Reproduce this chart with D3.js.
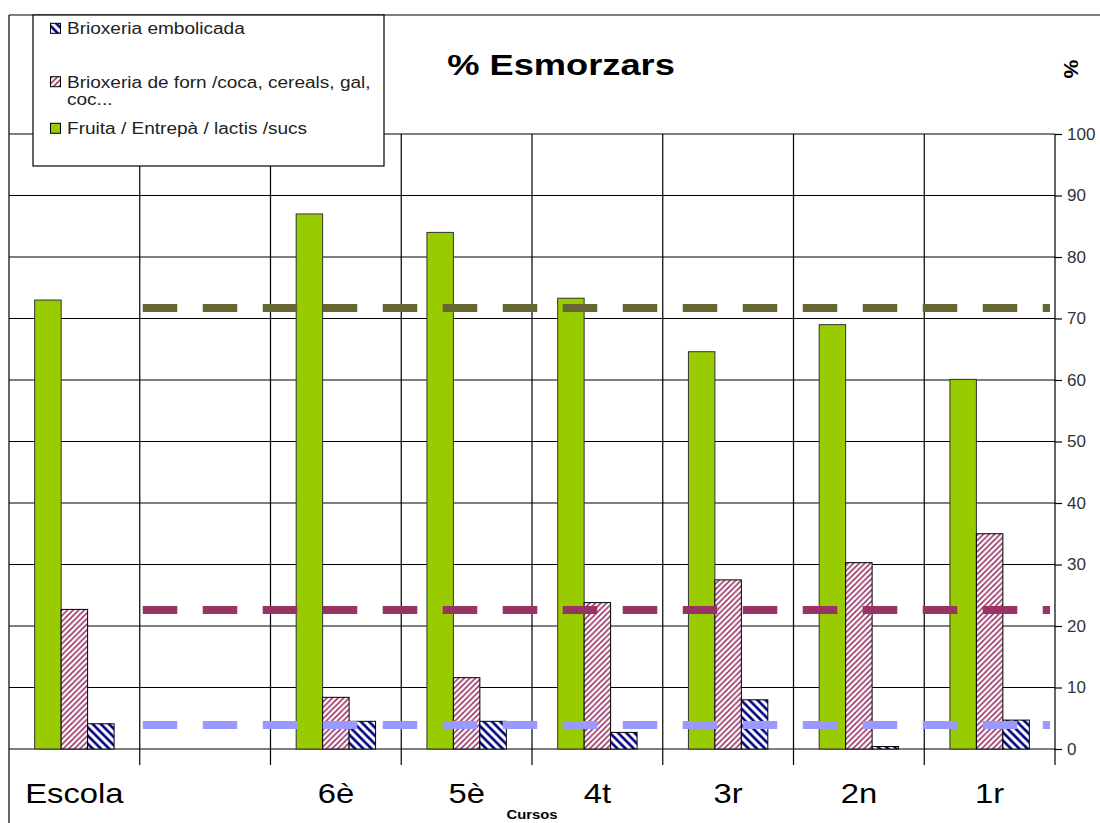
<!DOCTYPE html>
<html>
<head>
<meta charset="utf-8">
<script src="https://cdn.jsdelivr.net/npm/d3@7"></script>
<style>
  html, body { margin: 0; padding: 0; background: #fff; }
  svg { display: block; font-family: "Liberation Sans", Arial, sans-serif; }
</style>
</head>
<body>
<svg id="chart" width="1100" height="823"></svg>
<script>
// ---- data ----
const categories = ["Escola", "", "6è", "5è", "4t", "3r", "2n", "1r"];
const seriesNames = ["Fruita / Entrepà / lactis /sucs", "Brioxeria de forn /coca, cereals, gal, coc...", "Brioxeria embolicada"];
const fruita   = [73.0, null, 87.0, 84.0, 73.3, 64.6, 69.0, 60.1];
const brioForn = [22.7, null, 8.4, 11.6, 23.8, 27.5, 30.3, 35.0];
const brioEmb  = [4.1, null, 4.5, 4.5, 2.7, 8.0, 0.4, 4.7];
const refLines = [71.7, 22.6, 3.9];  // dashed reference lines (green, maroon, blue)
const yTicks = [0, 10, 20, 30, 40, 50, 60, 70, 80, 90, 100];
const title = "% Esmorzars";
const xTitle = "Cursos";
const yTitle = "%";

// ---- layout ----
const svg = d3.select("#chart");
const plot = { left: 9, right: 1055, top: 134, bottom: 749 };
const colors = { green: "#99CC00", maroon: "#993366", navy: "#000080", olive: "#666633", lav: "#9999FF" };

const x = d3.scaleBand().domain(categories.map((c, i) => i)).range([plot.left, plot.right]).padding(0);
const x1 = d3.scaleBand().domain([0, 1, 2]).range([0, x.bandwidth()]).paddingInner(0).paddingOuter(0.97);
const y = d3.scaleLinear().domain([0, 100]).range([plot.bottom, plot.top]);

// patterns
const defs = svg.append("defs");
function hatch(id, color, size, width, dir) {
  const p = defs.append("pattern").attr("id", id).attr("patternUnits", "userSpaceOnUse")
    .attr("width", size).attr("height", size);
  p.append("rect").attr("width", size).attr("height", size).attr("fill", "#fff");
  const d = dir === "up"
    ? `M0,${size} L${size},0 M${-size/2},${size/2} L${size/2},${-size/2} M${size/2},${size*1.5} L${size*1.5},${size/2}`
    : `M0,0 L${size},${size} M${-size/2},${size/2} L${size/2},${size*1.5} M${size/2},${-size/2} L${size*1.5},${size/2}`;
  p.append("path").attr("d", d).attr("stroke", color).attr("stroke-width", width).attr("fill", "none");
}
hatch("hPink", colors.maroon, 5.6, 1.6, "up");
hatch("hBlue", colors.navy, 8.2, 2.6, "down");
const fills = [colors.green, "url(#hPink)", "url(#hBlue)"];

// outer frame
svg.append("line").attr("x1", plot.left).attr("x2", 1100).attr("y1", 15).attr("y2", 15)
  .attr("stroke", "#000").attr("stroke-width", 1.2);
svg.append("line").attr("x1", plot.left).attr("x2", plot.left).attr("y1", 15).attr("y2", 823)
  .attr("stroke", "#000").attr("stroke-width", 1.2);

// horizontal gridlines + right axis ticks
const yAxis = d3.axisRight(y).tickValues(yTicks).tickSize(7).tickPadding(5).tickFormat(d3.format("d"));
const gy = svg.append("g").attr("transform", `translate(${plot.right},0)`).call(yAxis);
gy.select(".domain").remove();
gy.selectAll(".tick line").attr("stroke", "#000").attr("stroke-width", 1.2);
gy.selectAll(".tick text").attr("font-size", 17).attr("fill", "#333").attr("font-family", "Liberation Sans, Arial, sans-serif");
svg.append("g").selectAll("line").data(yTicks).join("line")
  .attr("x1", plot.left).attr("x2", plot.right)
  .attr("y1", d => y(d)).attr("y2", d => y(d))
  .attr("stroke", "#000").attr("stroke-width", 1.2);

// vertical gridlines (category boundaries) extending below as ticks
const bounds = categories.map((c, i) => i).slice(1).map(i => x(i)).concat([plot.right]);
svg.append("g").selectAll("line").data(bounds).join("line")
  .attr("x1", d => d).attr("x2", d => d)
  .attr("y1", plot.top).attr("y2", plot.bottom + 16)
  .attr("stroke", "#000").attr("stroke-width", 1.2);

// bars
const series = [fruita, brioForn, brioEmb];
series.forEach((vals, s) => {
  svg.append("g").selectAll("rect")
    .data(vals.map((v, i) => ({ v, i })).filter(d => d.v !== null))
    .join("rect")
    .attr("x", d => x(d.i) + x1(s))
    .attr("width", x1.bandwidth())
    .attr("y", d => y(d.v))
    .attr("height", d => y(0) - y(d.v))
    .attr("fill", fills[s])
    .attr("stroke", s === 0 ? "#333" : "#000")
    .attr("stroke-width", 1);
});

// dashed reference lines
const lineColors = [colors.olive, colors.maroon, colors.lav];
const lx0 = x(1) + 3, lx1 = plot.right - 5;
svg.append("g").selectAll("line").data(refLines).join("line")
  .attr("x1", lx0).attr("x2", lx1)
  .attr("y1", d => y(d)).attr("y2", d => y(d))
  .attr("stroke", (d, i) => lineColors[i])
  .attr("stroke-width", 8)
  .attr("stroke-dasharray", "34.5 25.5");

// category labels
svg.append("g").selectAll("text").data(categories).join("text")
  .attr("transform", (d, i) => `translate(${x(i) + x.bandwidth() / 2},803) scale(1.17,1)`)
  .attr("text-anchor", "middle").attr("font-size", 28).attr("fill", "#000")
  .text(d => d);

// axis title
svg.append("text")
  .attr("transform", `translate(${(plot.left + plot.right) / 2},819) scale(1.1,1)`)
  .attr("text-anchor", "middle").attr("font-size", 13.5).attr("font-weight", "bold")
  .text(xTitle);

// chart title
svg.append("text")
  .attr("transform", `translate(561,74.5) scale(1.25,1)`)
  .attr("text-anchor", "middle").attr("font-size", 29).attr("font-weight", "bold")
  .text(title);

// y title (rotated %)
svg.append("text")
  .attr("transform", `translate(1064,69) rotate(90)`)
  .attr("text-anchor", "middle").attr("font-size", 21).attr("font-weight", "bold")
  .text(yTitle);

// legend
const lg = svg.append("g");
lg.append("rect").attr("x", 33).attr("y", 15).attr("width", 351).attr("height", 151)
  .attr("fill", "#fff").attr("stroke", "#000").attr("stroke-width", 1.2);
const legendItems = [
  { s: 2, lines: [seriesNames[2]], y: 34.3 },
  { s: 1, lines: ["Brioxeria de forn /coca, cereals, gal,", "coc..."], y: 87.7 },
  { s: 0, lines: [seriesNames[0]], y: 134.3 }
];
legendItems.forEach(it => {
  lg.append("rect").attr("x", 50.5).attr("y", it.y - 11).attr("width", 10).attr("height", 10)
    .attr("fill", fills[it.s]).attr("stroke", "#000").attr("stroke-width", 1);
  it.lines.forEach((t, k) => {
    lg.append("text")
      .attr("transform", `translate(67,${it.y + k * 17.6}) scale(1.19,1)`)
      .attr("font-size", 16).attr("fill", "#222")
      .text(t);
  });
});
</script>
</body>
</html>
